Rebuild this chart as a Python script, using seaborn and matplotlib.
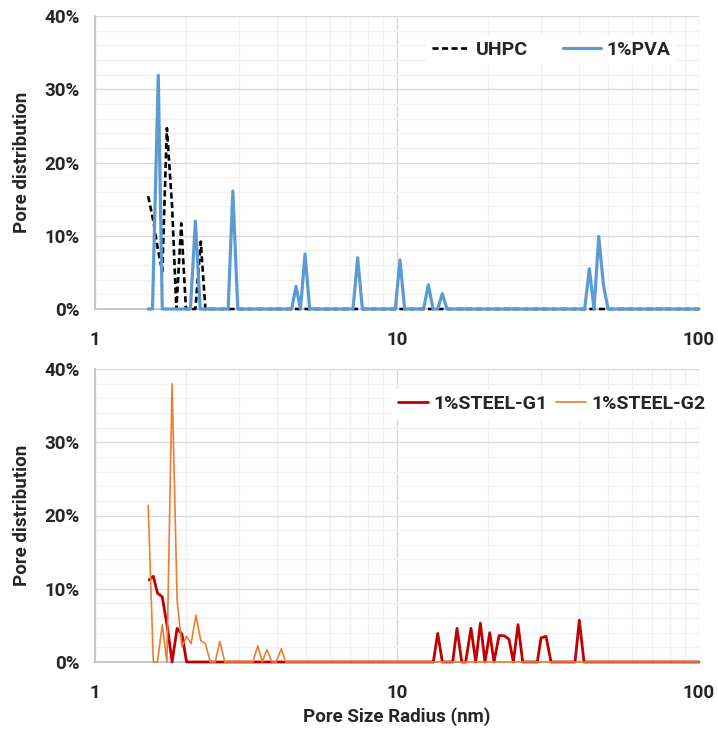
''' pore size distribution of UHPC mixes, two panels '''
import matplotlib
matplotlib.use('Agg')
import matplotlib.pyplot as plt
from matplotlib.ticker import PercentFormatter, FixedLocator, NullFormatter
import seaborn as sb

# top panel
uhpc_x = [1.50, 1.56, 1.61, 1.67, 1.73, 1.80, 1.86, 1.93, 2.00, 2.08, 2.15, 2.24, 2.32, 100]
uhpc_y = [15.4, 12.0, 8.5, 5.1, 24.7, 14.0, 0, 11.7, 0, 0, 0, 9.2, 0, 0]

pva_x = [1.50, 1.55, 1.62, 1.67, 2.07, 2.15, 2.23, 2.76, 2.86, 2.97, 4.48, 4.63, 4.79,
         4.96, 5.14, 7.15, 7.41, 7.68, 9.87, 10.23, 10.60, 12.25, 12.70, 13.16, 13.63,
         14.13, 14.64, 41.81, 43.35, 44.92, 46.56, 48.25, 50.0, 100]
pva_y = [0, 0, 31.9, 0, 0, 12.0, 0, 0, 16.1, 0, 0, 3.1, 0,
         7.5, 0, 0, 7.0, 0, 0, 6.7, 0, 0, 3.3, 0, 0,
         2.1, 0, 0, 5.5, 0, 9.9, 3.3, 0, 0]

# bottom panel
g1_x = [1.51, 1.56, 1.61, 1.67, 1.74, 1.80, 1.87, 1.94, 2.01, 13.19, 13.64, 14.13,
        15.29, 15.80, 16.38, 16.88, 17.58, 18.23, 18.88, 19.56, 20.28, 20.95, 21.77,
        22.61, 23.49, 24.28, 25.16, 26.08, 29.15, 29.99, 31.15, 32.36, 38.86, 40.15,
        41.62, 100]
g1_y = [11.2, 11.7, 9.4, 8.9, 4.5, 0, 4.6, 3.8, 0, 0, 3.9, 0,
        0, 4.6, 0, 0, 4.6, 0, 5.3, 0, 4.0, 0, 3.6,
        3.6, 3.1, 0, 5.1, 0, 0, 3.3, 3.5, 0, 0, 5.7,
        0, 0]

g2_x = [1.50, 1.56, 1.61, 1.67, 1.73, 1.80, 1.87, 1.94, 2.01, 2.08, 2.16, 2.24, 2.32,
        2.41, 2.50, 2.59, 2.69, 3.33, 3.46, 3.58, 3.71, 3.85, 3.98, 4.14, 4.28, 100]
g2_y = [21.4, 0, 0, 5.1, 0, 38.0, 8.5, 2.1, 3.5, 2.5, 6.4, 2.9, 2.5,
        0, 0, 2.8, 0, 0, 2.2, 0, 1.7, 0, 0, 1.8, 0, 0]

x_ticks = [1, 10, 100]
y_ticks = [0, 10, 20, 30, 40]

sb.set_style('white')
plt.rcParams['font.family'] = ['Roboto', 'DejaVu Sans']
plt.rcParams['font.weight'] = 'bold'

fig = plt.figure(figsize=(7.18, 7.31), dpi=100)
ax_top = fig.add_axes([95 / 718, 1 - 309 / 731, 604 / 718, 293 / 731])
ax_bot = fig.add_axes([95 / 718, 1 - 662 / 731, 604 / 718, 293 / 731])


def style_axis(ax):
    ''' excel-like look: log x, percent y, light grid '''
    ax.set_xscale('log')
    ax.set_xlim(1, 100)
    ax.set_ylim(0, 40)
    ax.xaxis.set_major_locator(FixedLocator(x_ticks))
    ax.set_xticklabels([str(t) for t in x_ticks])
    ax.xaxis.set_minor_locator(FixedLocator([2, 3, 4, 5, 6, 7, 8, 9, 20, 30, 40, 50, 60, 70, 80, 90]))
    ax.xaxis.set_minor_formatter(NullFormatter())
    ax.yaxis.set_major_locator(FixedLocator(y_ticks))
    ax.yaxis.set_minor_locator(FixedLocator([2, 4, 6, 8, 12, 14, 16, 18, 22, 24, 26, 28, 32, 34, 36, 38]))
    ax.yaxis.set_major_formatter(PercentFormatter(100, decimals=0))
    ax.grid(which='major', color='#d9d9d9', linewidth=1.0)
    ax.grid(which='minor', color='#f0f0f0', linewidth=1.0)
    ax.set_axisbelow(True)
    ax.tick_params(which='both', length=0)
    ax.tick_params(axis='y', pad=11, labelsize=13.5)
    ax.tick_params(axis='x', pad=16, labelsize=13.5)
    for side in ['top', 'right']:
        ax.spines[side].set_visible(False)
    for side in ['left', 'bottom']:
        ax.spines[side].set_color('#bfbfbf')
        ax.spines[side].set_linewidth(1.2)
    for lab in ax.get_xticklabels() + ax.get_yticklabels():
        lab.set_fontweight('bold')
    ax.set_ylabel('Pore distribution', fontsize=13.5, fontweight='bold')
    ax.yaxis.set_label_coords(-64 / 604, 0.5)


sb.lineplot(x=uhpc_x, y=uhpc_y, ax=ax_top, sort=False, color='black', linewidth=1.9,
            linestyle=(0, (2.3, 1.3)), label='UHPC')
sb.lineplot(x=pva_x, y=pva_y, ax=ax_top, sort=False, color='#5b9bd5', linewidth=2.3,
            label='1%PVA')
style_axis(ax_top)
ax_top.set_xlabel('')

sb.lineplot(x=g1_x, y=g1_y, ax=ax_bot, sort=False, color='#c00000', linewidth=2.0,
            label='1%STEEL-G1')
sb.lineplot(x=g2_x, y=g2_y, ax=ax_bot, sort=False, color='#ed7d31', linewidth=1.2,
            label='1%STEEL-G2')
style_axis(ax_bot)
ax_bot.set_xlabel('Pore Size Radius (nm)', fontsize=13.5, fontweight='bold')
ax_bot.xaxis.set_label_coords(0.5, -45 / 293)

# lines sit above the axis line, like the excel original
for ax in [ax_top, ax_bot]:
    for i, line in enumerate(ax.lines):
        line.set_clip_on(False)
        line.set_zorder(3 + i)

ax_top.legend(loc='center left', bbox_to_anchor=((426 - 95) / 604, 1 - 34 / 293),
              ncol=2, frameon=True, facecolor='white', edgecolor='none', framealpha=1,
              prop={'size': 14, 'weight': 'bold'}, handlelength=1.95, handletextpad=0.3,
              columnspacing=1.8, borderpad=0.3, borderaxespad=0)
ax_bot.legend(loc='center left', bbox_to_anchor=((392 - 95) / 604, 1 - 35 / 293),
              ncol=2, frameon=True, facecolor='white', edgecolor='none', framealpha=1,
              prop={'size': 14, 'weight': 'bold'}, handlelength=1.55, handletextpad=0.3,
              columnspacing=0.4, borderpad=0.3, borderaxespad=0)
for ax in [ax_top, ax_bot]:
    ax.get_legend().set_zorder(10)

fig.savefig('out.png', dpi=100)
